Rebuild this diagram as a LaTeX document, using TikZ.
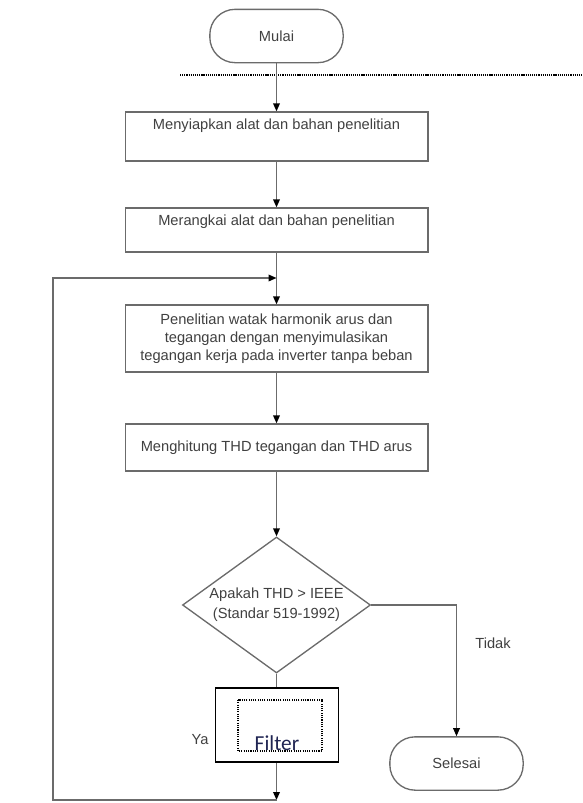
\documentclass[tikz,border=0pt]{standalone}
\usepackage{fontspec}
\setmainfont{Liberation Sans}
\newfontfamily\filterfont{Carlito}
\usepackage{tikz}
\usetikzlibrary{positioning}
\usetikzlibrary{arrows.meta}
\usetikzlibrary{shapes.geometric}

\definecolor{garisabu}{gray}{0.42}
\definecolor{teksabu}{gray}{0.25}
\definecolor{birutua}{rgb}{0.12,0.14,0.32}

\begin{document}
\begin{tikzpicture}[x=0.75pt,y=-0.75pt,
    font=\fontsize{11}{15}\selectfont,
    kotak/.style={draw=garisabu, line width=1pt, minimum width=227pt, text=teksabu, align=center, inner sep=0pt},
    ujung/.style={draw=garisabu, line width=1pt, rounded corners=19pt, text=teksabu, minimum width=100pt, minimum height=40pt},
    alur/.style={draw=garisabu, line width=1pt, -{Triangle[width=5pt,length=6pt,color=black]}},
    garis/.style={draw=garisabu, line width=1pt}]

  \useasboundingbox (0,0) rectangle (582,803);

  % Start and separator
  \node[ujung] (mulai) at (276.5,36) {Mulai};
  \draw[line width=1.2pt, dash pattern=on 0.9pt off 0.7pt] (180,75) -- (582,75);

  % Steps
  \node[kotak, minimum height=36.75pt,
    label={[anchor=center,yshift=-10.5pt,text=teksabu]north:Menyiapkan alat dan bahan penelitian}]
    (siap) at (276.5,136.5) {};
  \node[kotak, minimum height=33pt,
    label={[anchor=center,yshift=-10.5pt,text=teksabu]north:Merangkai alat dan bahan penelitian}]
    (rangkai) at (276.5,230) {};
  \node[kotak, minimum height=50.25pt, font=\fontsize{11}{13.5}\selectfont] (teliti) at (276.5,338.5)
    {Penelitian watak harmonik arus dan\\tegangan dengan menyimulasikan\\tegangan kerja pada inverter tanpa beban};
  \node[kotak, minimum height=35.25pt] (hitung) at (276.5,447.5) {Menghitung THD tegangan dan THD arus};

  % Decision
  \node[draw=garisabu, line width=1pt, shape=diamond, aspect=1.38, minimum width=141pt, minimum height=102pt,
    inner sep=0pt, text=teksabu, align=center] (cek) at (276.5,605)
    {\raisebox{-2pt}{Apakah THD > IEEE}\\\raisebox{-2pt}{(Standar 519-1992)}};

  % Filter
  \node[draw=black, line width=1.3pt, minimum width=92.25pt, minimum height=55.5pt,
    label={[anchor=base,yshift=9.5pt,text=birutua,font=\filterfont\fontsize{16}{18}\selectfont]south:Filter}]
    (filter) at (277,725) {};
  \draw[line width=1.1pt, dash pattern=on 0.8pt off 0.9pt] (238,700) rectangle (322,751);

  % End
  \node[ujung] (selesai) at (456.5,763.5) {Selesai};

  % Labels
  \node[text=teksabu] (ya) at (200,740) {Ya};
  \node[text=teksabu] (tidak) at (493,643) {Tidak};

  % Connectors
  \coordinate (gabung) at (276.5,278);
  \coordinate (kiri) at (53,278);
  \coordinate (bawah) at (276.5,800);

  \draw[alur] (mulai) -- (siap);
  \draw[alur] (siap) -- (rangkai);
  \draw[alur] (rangkai) -- (teliti);
  \draw[alur] (teliti) -- (hitung);
  \draw[alur] (hitung) -- (cek);
  \draw[garis] (cek.south) -- (cek.south |- filter.north);
  \draw[alur] (cek.east) -| (selesai.north);
  \draw[alur] (filter.south -| bawah) -- (bawah);
  \draw[alur] (bawah) -| (kiri) -- (gabung);
\end{tikzpicture}
\end{document}
